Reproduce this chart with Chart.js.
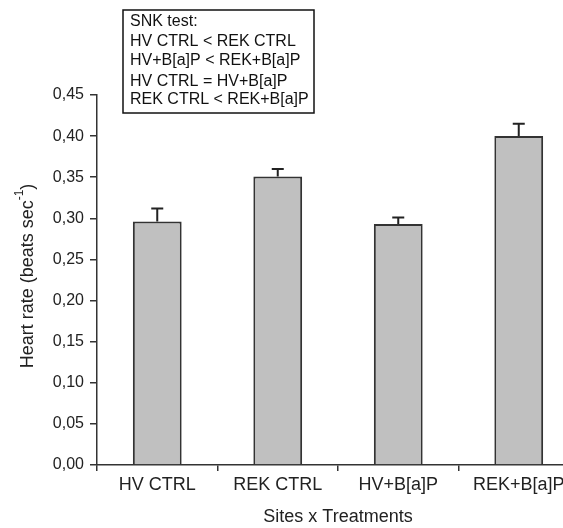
<!DOCTYPE html>
<html>
<head>
<meta charset="utf-8">
<script src="https://cdn.jsdelivr.net/npm/chart.js@4"></script>
<style>
	html, body { margin: 0; padding: 0; background: #fff; }
	#wrap { width: 563px; height: 528px; overflow: hidden; }
	#mycanvas { display: block; }
</style>
</head>
<body>
<div id="wrap"><canvas id="mycanvas" width="590" height="528"></canvas></div>
<script>
var treatments = ['HV CTRL', 'REK CTRL', 'HV+B[a]P', 'REK+B[a]P'];
var heartRate = [0.296, 0.351, 0.293, 0.400];
var heartRateErr = [0.016, 0.009, 0.008, 0.015];
var snkLines = ['SNK test:', 'HV CTRL < REK CTRL', 'HV+B[a]P < REK+B[a]P', 'HV CTRL = HV+B[a]P', 'REK CTRL < REK+B[a]P'];

var fontFamily = '"Liberation Sans", Arial, sans-serif';

// error bars on top of each bar
var errorBars = {
	id: 'errorBars',
	afterDatasetsDraw: function(chart) {
		var ctx = chart.ctx;
		var y = chart.scales.y;
		var meta = chart.getDatasetMeta(0);
		ctx.save();
		ctx.strokeStyle = '#222';
		ctx.lineWidth = 2;
		meta.data.forEach(function(bar, i) {
			var top = y.getPixelForValue(heartRate[i] + heartRateErr[i]);
			ctx.beginPath();
			ctx.moveTo(bar.x, bar.y);
			ctx.lineTo(bar.x, top);
			ctx.moveTo(bar.x - 6, top);
			ctx.lineTo(bar.x + 6, top);
			ctx.stroke();
		});
		ctx.restore();
	}
};

// rotated y title with superscript, plus the SNK text box
var extras = {
	id: 'extras',
	afterDraw: function(chart) {
		var ctx = chart.ctx;
		var area = chart.chartArea;
		ctx.save();
		ctx.fillStyle = '#222';

		// y title
		var main = 'Heart rate (beats sec';
		var sup = '-1';
		var close = ')';
		ctx.font = '18px ' + fontFamily;
		var wMain = ctx.measureText(main).width;
		var wClose = ctx.measureText(close).width;
		ctx.font = '12px ' + fontFamily;
		var wSup = ctx.measureText(sup).width;
		var total = wMain + wSup + wClose;
		ctx.translate(28, 276);
		ctx.rotate(-Math.PI / 2);
		ctx.textBaseline = 'middle';
		ctx.textAlign = 'left';
		var x = -total / 2;
		ctx.font = '18px ' + fontFamily;
		ctx.fillText(main, x, 0);
		x += wMain;
		ctx.font = '12px ' + fontFamily;
		ctx.fillText(sup, x, -8);
		x += wSup;
		ctx.font = '18px ' + fontFamily;
		ctx.fillText(close, x, 0);
		ctx.setTransform(1, 0, 0, 1, 0, 0);

		// SNK box
		var bx = area.left + 26;
		var by = 10;
		ctx.strokeStyle = '#111';
		ctx.lineWidth = 1.5;
		ctx.strokeRect(bx, by, 191, 103);
		ctx.fillStyle = '#111';
		ctx.font = '16px ' + fontFamily;
		ctx.textBaseline = 'middle';
		var lineY = [22, 42, 61, 82, 100];
		for (var i in snkLines) {
			ctx.fillText(snkLines[i], bx + 7, lineY[i]);
		}
		ctx.restore();
	}
};

var chartdata = {
	labels: treatments,
	datasets: [
		{
			label: 'Heart rate',
			backgroundColor: '#c0c0c0',
			borderColor: '#333',
			borderWidth: 2,
			barPercentage: 0.405,
			categoryPercentage: 1,
			data: heartRate
		}
	]
};

var ctx = document.getElementById('mycanvas');

var barGraph = new Chart(ctx, {
	type: 'bar',
	data: chartdata,
	plugins: [errorBars, extras],
	options: {
		responsive: false,
		animation: false,
		layout: {
			padding: { top: 95, left: 0, right: 11, bottom: 0 }
		},
		plugins: {
			legend: { display: false },
			tooltip: { enabled: false }
		},
		scales: {
			x: {
				afterFit: function(scale) { scale.height = 63; },
				border: { display: true, color: '#333', width: 1.5 },
				grid: {
					display: true,
					offset: true,
					drawOnChartArea: false,
					drawTicks: true,
					tickLength: 6,
					color: '#333',
					lineWidth: 1.5
				},
				ticks: {
					color: '#222',
					padding: 3,
					font: { family: fontFamily, size: 18 }
				},
				title: {
					display: true,
					text: 'Sites x Treatments',
					color: '#222',
					padding: { top: 0, bottom: 0 },
					font: { family: fontFamily, size: 18, lineHeight: 1.2 }
				}
			},
			y: {
				min: 0,
				max: 0.45,
				afterFit: function(scale) { scale.width = 97; },
				border: { display: true, color: '#333', width: 1.5 },
				grid: {
					display: true,
					drawOnChartArea: false,
					drawTicks: true,
					tickLength: 7,
					color: '#333',
					lineWidth: 1.5
				},
				ticks: {
					stepSize: 0.05,
					color: '#222',
					padding: 6,
					font: { family: fontFamily, size: 16 },
					callback: function(value) {
						return value.toFixed(2).replace('.', ',');
					}
				}
			}
		}
	}
});
</script>
</body>
</html>
